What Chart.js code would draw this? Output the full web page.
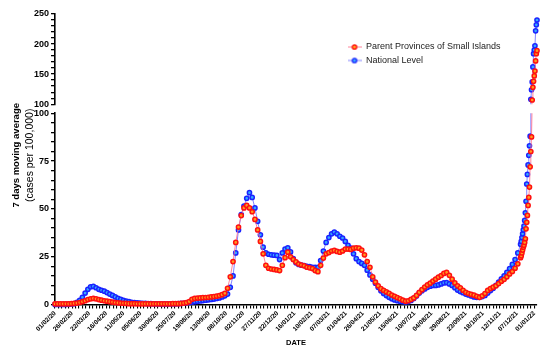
<!DOCTYPE html>
<html><head><meta charset="utf-8">
<script src="https://cdn.jsdelivr.net/npm/chart.js@4/dist/chart.umd.min.js"></script>
<style>html,body{margin:0;padding:0;background:#fff;}canvas{display:block;}</style>
</head><body>
<canvas id="c" width="550" height="355"></canvas>
<script>
// Day offsets counted from 01/02/2020
const dayOffsets = [
  0,4,8,12,16,20,24,28,32,36, 40,44,48,52,56,60,64,68,72,76,
  80,84,88,92,96,100,104,108,112,116, 120,124,128,132,136,140,144,148,152,156,
  160,164,168,172,176,180,184,188,192,196, 200,204,208,212,216,220,224,228,232,236,
  240,244,248,252,256,260,264,268,272,276, 280,284,288,292,296,300,304,308,312,316,
  320,324,328,332,336,340,344,348,352,356, 360,364,368,372,376,380,384,388,392,396,
  400,404,408,412,416,420,424,428,432,436, 440,444,448,452,456,460,464,468,472,476,
  480,484,488,492,496,500,504,508,512,516, 520,524,528,532,536,540,544,548,552,556,
  560,564,568,572,576,580,584,588,592,596, 600,604,608,612,616,620,624,628,632,636,
  640,644,648,652,656,660,664,668,672,676, 680,
  681,682,683,684,685,686,687,688,689,690,691,692,693,694,695,696,697,698,699,700,701,702,703,704
];
const parentProvinces = [
  0.4,0.4,0.4,0.4,0.4,0.4,0.5,0.6,0.8,1.1, 1.5,2.0,2.6,3.0,3.2,3.0,2.6,2.3,2.0,1.8,
  1.5,1.3,1.1,0.9,0.8,0.7,0.6,0.5,0.5,0.5, 0.4,0.4,0.4,0.4,0.4,0.4,0.4,0.4,0.4,0.4,
  0.4,0.4,0.4,0.5,0.5,0.5,0.6,0.8,1.0,1.6, 2.8,3.2,3.4,3.5,3.6,3.7,3.8,4.0,4.2,4.4,
  4.7,5.2,5.9,8.5,14.5,22.5,32.5,40.5,46.5,50.5, 51.8,50.5,48.5,44.5,39,33,26.5,20.5,19,18.6,
  18.4,18.1,17.8,20.5,24.5,27.4,25,23.5,22.3,21.2, 20.7,20.3,19.5,19.2,18.8,17.8,17.2,20.5,24.3,26.5,
  27.2,28,28.3,27.8,27.4,28,29,29,28.8,29.5, 29.7,29.5,28.5,26,22.5,19.5,14.5,11.8,9.8,8.3,
  7.4,6.6,5.9,5.0,4.3,3.6,3.0,2.3,1.8,2.0, 2.7,3.5,4.8,6.4,7.8,9.2,10.3,11.2,12.3,13.3,
  14.3,15.2,16.3,16.8,15.3,13.3,11.3,9.8,8.8,7.5, 6.4,5.8,5.3,4.9,4.3,3.8,4.6,5.8,7.4,8.4,
  9.1,9.8,11,12.2,13.2,14.5,16,17.3,19,21.3, 24.5,
  25.5,27,28.5,30,31,32.5,34.4,39.6,43,46.6,51.8,56,61.4,72,80,87.6,107,128,138,147,155,172,184,189
];
const nationalLevel = [
  0.1,0.1,0.1,0.1,0.1,0.2,0.3,0.5,1.2,2.2, 3.8,6.0,8.0,9.3,9.5,8.8,8.0,7.5,7.0,6.3,
  5.5,4.8,4.0,3.3,2.7,2.2,1.8,1.5,1.2,1.0, 0.9,0.8,0.7,0.6,0.5,0.5,0.4,0.4,0.3,0.3,
  0.3,0.3,0.3,0.4,0.4,0.5,0.6,0.7,0.9,1.1, 1.3,1.5,1.7,1.9,2.1,2.3,2.5,2.7,2.9,3.2,
  3.5,4.0,4.6,5.5,9.0,15,27,39,47,51.5, 55.5,58.5,56,50.5,43.5,36.5,30,27,26.3,26,
  25.8,25.7,23.5,27,29,29.7,27.5,24,21.8,21, 20.6,20.4,20,19.8,19.5,19.5,19.5,23,28,32.5,
  35,37,37.9,37,35.7,34.8,33,31,29.5,26.5, 24,22.5,21.5,20.5,18,15.5,13.3,11.2,9,7.2,
  5.8,4.7,3.8,3.0,2.4,2.0,1.7,1.5,1.4,1.6, 2.2,3.2,4.5,6,7.2,8.2,9,9.6,10,10,
  10.3,10.8,11.3,11.5,10.8,10,8.8,7.6,6.8,6.2, 5.5,5,4.5,4,3.8,3.8,4.2,4.8,6,7.3,
  8.5,10,11.8,13.5,15,16.8,18.8,21,23.5,27, 31.5,
  33,35,37,39,41,44,48,54,63,68,73,78,83,88,108,124,137,162,184,190,197,222,232,240
];
const seriesNames = ['Parent Provinces of Small Islands', 'National Level'];
const xTickLabels = ['01/02/20','26/02/20','22/03/20','16/04/20','11/05/20','05/06/20','30/06/20','25/07/20',
  '19/08/20','13/09/20','08/10/20','02/11/20','27/11/20','22/12/20','16/01/21','10/02/21','07/03/21',
  '01/04/21','26/04/21','21/05/21','15/06/21','10/07/21','04/08/21','29/08/21','23/09/21','18/10/21',
  '12/11/21','07/12/21','01/01/22'];
const xLabelEveryDays = 25;
const yLowerLabels = [0, 25, 50, 75, 100];
const yUpperLabels = [100, 150, 200, 250];
const yTitleLines = ['7 days moving average', '(cases per 100,000)'];
const xTitle = 'DATE';

const FONT = '"Liberation Sans", Arial, sans-serif';
const RED = {line: 'rgba(255,110,140,0.85)', edge: '#ff1010', fill: '#ff9a1e'};
const BLUE = {line: 'rgba(110,110,255,0.85)', edge: '#1a22ff', fill: '#36a8ff'};

function legendIcon(st) {
  const c = document.createElement('canvas'); c.width = 14; c.height = 8;
  const g = c.getContext('2d');
  g.strokeStyle = st.line; g.lineWidth = 1;
  g.beginPath(); g.moveTo(0, 4); g.lineTo(14, 4); g.stroke();
  g.beginPath(); g.arc(7, 4, 2.2, 0, Math.PI * 2);
  g.fillStyle = st.fill; g.fill(); g.lineWidth = 1.3; g.strokeStyle = st.edge; g.stroke();
  return c;
}
const icons = [legendIcon(RED), legendIcon(BLUE)];

function ds(label, values, axis, st, clip) {
  return {
    label, data: values, yAxisID: axis,
    borderColor: st.line, backgroundColor: st.fill, borderWidth: 1,
    pointRadius: 2.1, pointBorderWidth: 1.5,
    pointBackgroundColor: st.fill, pointBorderColor: st.edge,
    tension: 0, clip
  };
}
const lowClip = {left: 4, right: 4, top: 0, bottom: 4};
const topClip = {left: 4, right: 6, top: 4, bottom: 0};
const datasets = [
  ds(seriesNames[0], parentProvinces, 'y', RED, lowClip),
  ds(seriesNames[1], nationalLevel, 'y', BLUE, lowClip),
  ds(seriesNames[0], parentProvinces, 'yTop', RED, topClip),
  ds(seriesNames[1], nationalLevel, 'yTop', BLUE, topClip)
];

function yAxis(min, max, step, labels, weight, w) {
  return {
    type: 'linear', position: 'left', stack: 'v', stackWeight: w, weight,
    min, max,
    ticks: {
      stepSize: step, autoSkip: false, includeBounds: false, padding: 2,
      color: '#000', font: {family: FONT, size: 9, weight: 'bold'},
      callback: (v) => labels.includes(v) ? String(v) : ''
    },
    grid: {display: true, drawOnChartArea: false, drawTicks: true, tickLength: 4, lineWidth: 1.3, color: '#000', tickWidth: 1.3, tickColor: '#000'},
    border: {display: true, color: '#000', width: 1.6}
  };
}

const legendMover = {
  id: 'legendMover',
  afterLayout(chart) {
    const l = chart.legend;
    if (!l) return;
    const w = l.width;
    l.left = 343; l.top = 38; l.right = l.left + w; l.bottom = l.top + 40;
  }
};
const yTitlePlugin = {
  id: 'yTitle',
  afterDraw(chart) {
    const ctx = chart.ctx;
    const cy = (chart.scales.yTop.top + chart.scales.y.bottom) / 2 - 4;
    ctx.save();
    ctx.fillStyle = '#000'; ctx.textAlign = 'center'; ctx.textBaseline = 'middle';
    ctx.translate(16, cy); ctx.rotate(-Math.PI / 2);
    ctx.font = 'bold 9.5px ' + FONT; ctx.fillText(yTitleLines[0], 0, 0);
    ctx.font = '10.5px ' + FONT; ctx.fillText(yTitleLines[1], 0, 14);
    ctx.restore();
  }
};

new Chart(document.getElementById('c'), {
  type: 'line',
  data: {labels: dayOffsets, datasets},
  options: {
    responsive: false, animation: false, devicePixelRatio: 1, events: [],
    layout: {padding: {left: 32, top: 14, right: 13, bottom: 0}},
    plugins: {
      tooltip: {enabled: false},
      legend: {
        position: 'chartArea', align: 'start',
        labels: {
          usePointStyle: true, pointStyleWidth: 14, boxHeight: 8, padding: 4.5,
          color: '#222', font: {family: FONT, size: 9},
          generateLabels(chart) {
            const items = Chart.defaults.plugins.legend.labels.generateLabels(chart);
            return items.filter(it => it.datasetIndex < 2).map(it => Object.assign(it, {pointStyle: icons[it.datasetIndex]}));
          }
        }
      }
    },
    scales: {
      x: {
        type: 'linear', position: 'bottom', min: 0, max: 704,
        ticks: {
          stepSize: 5, autoSkip: false, includeBounds: false, maxRotation: 45, minRotation: 45, padding: 1,
          color: '#000', font: {family: FONT, size: 6.5, weight: 'bold'},
          callback: (v) => (v % xLabelEveryDays === 0 && xTickLabels[v / xLabelEveryDays]) ? xTickLabels[v / xLabelEveryDays] : ''
        },
        grid: {display: true, drawOnChartArea: false, drawTicks: true, tickLength: 4, lineWidth: 1.1, color: '#000', tickWidth: 1.1, tickColor: '#000'},
        border: {display: true, color: '#000', width: 1.6},
        title: {display: true, text: xTitle, color: '#000', font: {family: FONT, size: 7.5, weight: 'bold'}, padding: {top: 4, bottom: 8}}
      },
      y: yAxis(0, 100, 5, yLowerLabels, 1, 191),
      yGap: {type: 'linear', position: 'left', stack: 'v', stackWeight: 9, weight: 2, display: false, min: 0, max: 1},
      yTop: yAxis(100, 250, 10, yUpperLabels, 3, 90)
    }
  },
  plugins: [legendMover, yTitlePlugin]
});
</script>
</body></html>
